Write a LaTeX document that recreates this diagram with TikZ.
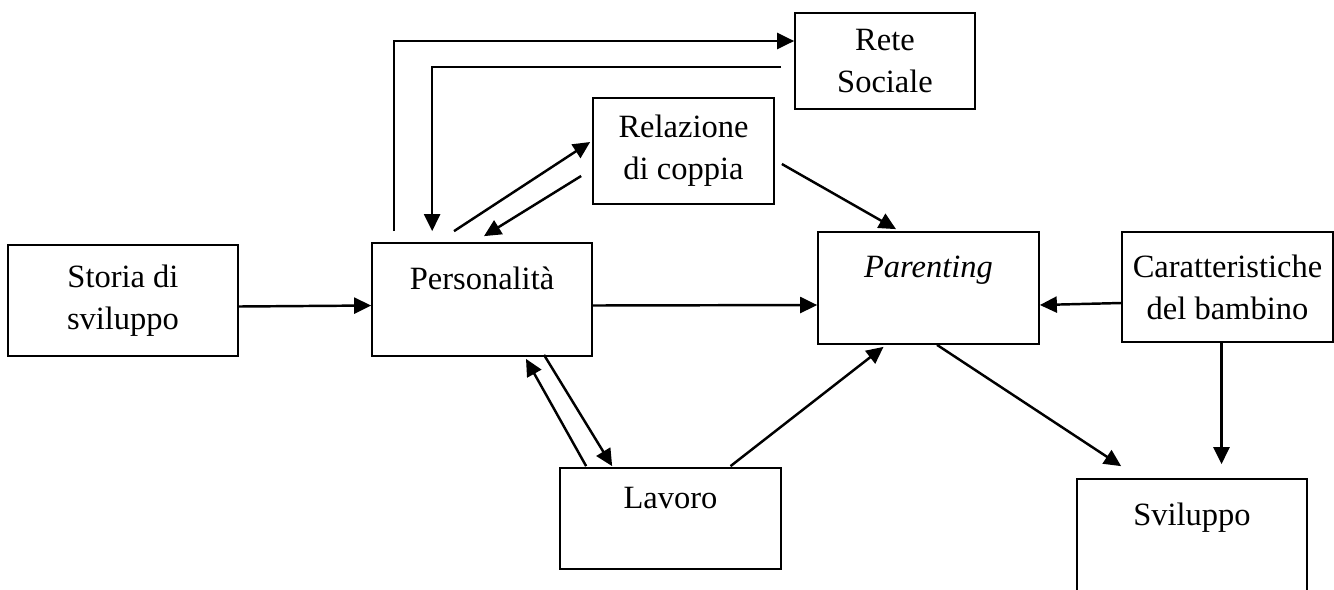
\documentclass[tikz,border=0pt]{standalone}
\usepackage{fontspec}
\setmainfont{Liberation Serif}
\usetikzlibrary{arrows.meta, calc}

\begin{document}
\begin{tikzpicture}[
  x=0.02cm, y=-0.02cm,
  block/.style={rectangle, draw=black, line width=1pt, text centered, align=center, inner sep=0pt, font=\fontsize{18.5}{23.8}\selectfont},
  line/.style={draw=black, line width=1.4pt, -{Triangle[length=0.34cm, width=0.32cm]}}
]
  \clip (0,0) rectangle (1334,589);

  % Left column
  \node[block, minimum width=4.6cm, minimum height=2.22cm] (storia) at (123,300.5) {Storia di\\sviluppo};
  \node[block, minimum width=4.4cm, minimum height=2.26cm] (pers) at (482,299.5) {Personalità\\\mbox{}};

  % Upper boxes
  \node[block, minimum width=3.62cm, minimum height=2.12cm] (rel) at (683.5,151) {Relazione\\di coppia};
  \node[block, minimum width=3.6cm, minimum height=1.92cm] (rete) at (885,61) {Rete\\Sociale};

  % Middle row
  \node[block, minimum width=4.42cm, minimum height=2.24cm] (par) at (928.5,288) {\textit{Parenting}\\\mbox{}};
  \node[block, minimum width=4.22cm, minimum height=2.2cm] (car) at (1227.5,287) {Caratteristiche\\del bambino};

  % Lower boxes
  \node[block, minimum width=4.42cm, minimum height=2.02cm] (lav) at (670.5,518.5) {Lavoro\\\mbox{}};
  \node[block, minimum width=4.6cm, minimum height=2.26cm] (svi) at (1192,535.5) {Sviluppo\\\mbox{}};

  % Connections
  \path[line] ($(storia.east)+(0,6)$) -- ($(pers.west)+(0,6)$);
  \path[line] ($(pers.east)+(0,6)$) -- ($(par.west)+(0,17)$);
  \path[line] ($(car.west)+(0,16)$) -- ($(par.east)+(0,17)$);
  \path[line, shorten >=0.28cm] ($(car.south)+(-6,0)$) -- ($(car.south |- svi.north)+(-6,0)$);
  \path[line] ($(par.south)+(8.5,0)$) -- ($(svi.north west)+(45,-12)$);
  \path[line] ($(lav.north)+(60,-1)$) -- ($(par.south)+(-45,2)$);
  \path[line] ($(pers.south)+(62,-2)$) -- ($(lav.north west)+(53,-1)$);
  \path[line] ($(lav.north west)+(27,-1)$) -- ($(pers.south)+(44,2)$);
  \path[line] ($(pers.north)+(-28,-11)$) -- ($(rel.west)+(-2,-9)$);
  \path[line] ($(rel.west)+(-11,25)$) -- ($(pers.north)+(2,-6)$);
  \path[line] ($(rel.east)+(7,13)$) -- ($(par.north)+(-32.5,-2)$);
  \path[line] ($(pers.north west)+(23,-11)$) |- ($(rete.west)+(0,-20)$);
  \path[line] ($(rete.west)+(-13,6)$) -| ($(pers.north west)+(61,-11)$);

\end{tikzpicture}
\end{document}
